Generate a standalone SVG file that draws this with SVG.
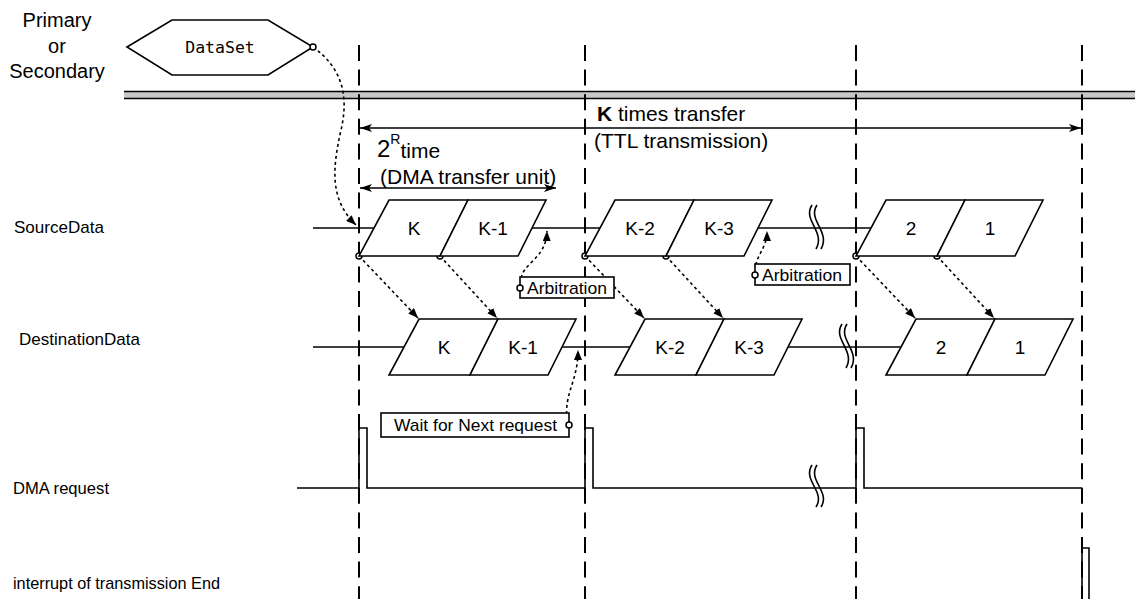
<svg xmlns="http://www.w3.org/2000/svg" width="1135" height="599" viewBox="0 0 1135 599">
<defs>
<style>
.t{font-family:"Liberation Sans",Arial,sans-serif;fill:#000}
.lbl{font-size:17px}
.cell{font-size:19px;text-anchor:middle}
.big{font-size:20px}
.big2{font-size:21px}
.sh{fill:#fff;stroke:#000;stroke-width:1.6}
.ln{fill:none;stroke:#000;stroke-width:1.6}
.dash{fill:none;stroke:#000;stroke-width:2;stroke-dasharray:16 8.6}
.dot{fill:none;stroke:#000;stroke-width:1.6;stroke-dasharray:3 3;marker-end:url(#dh)}
.dim{fill:none;stroke:#000;stroke-width:1.6;marker-start:url(#ah);marker-end:url(#ah)}
.pt{fill:#fff;stroke:#000;stroke-width:1.5}
</style>
<marker id="ah" markerWidth="13" markerHeight="9" refX="12" refY="4.5" orient="auto-start-reverse" markerUnits="userSpaceOnUse"><path d="M0,0.5 L12,4.5 L0,8.5 L3,4.5 z" fill="#000"/></marker>
<marker id="dh" markerWidth="10" markerHeight="8" refX="10" refY="4" orient="auto" markerUnits="userSpaceOnUse"><path d="M0,0 L10,4 L0,8 z" fill="#000"/></marker>
</defs>
<rect width="1135" height="599" fill="#fff"/>

<g id="labels">
<text class="t big" x="57" y="27" text-anchor="middle">Primary</text>
<text class="t big" x="57" y="53" text-anchor="middle">or</text>
<text class="t big" x="57" y="78" text-anchor="middle">Secondary</text>
<text class="t lbl" x="14" y="233" textLength="90" lengthAdjust="spacingAndGlyphs">SourceData</text>
<text class="t lbl" x="19" y="345" textLength="121" lengthAdjust="spacingAndGlyphs">DestinationData</text>
<text class="t lbl" x="13" y="494" textLength="96" lengthAdjust="spacingAndGlyphs">DMA request</text>
<text class="t lbl" x="13" y="589" textLength="207" lengthAdjust="spacingAndGlyphs">interrupt of transmission End</text>
</g>

<g id="bus">
<rect x="124" y="91.5" width="1011" height="7" fill="#c8c8c8"/>
<line x1="124" y1="91.5" x2="1135" y2="91.5" class="ln"/>
<line x1="124" y1="98.5" x2="1135" y2="98.5" class="ln"/>
</g>

<g id="dataset">
<polygon class="sh" points="127,47 172,20 268,20 313,47 268,75 172,75"/>
<text x="220" y="53" font-family="'DejaVu Sans Mono',monospace" font-size="16.5" text-anchor="middle">DataSet</text>
</g>

<g id="timelines">
<line class="dash" x1="359" y1="45" x2="359" y2="599"/>
<line class="dash" x1="585" y1="45" x2="585" y2="599"/>
<line class="dash" x1="856" y1="45" x2="856" y2="599"/>
<line class="dash" x1="1082" y1="45" x2="1082" y2="599"/>
</g>

<g id="ktimes">
<line class="dim" x1="360" y1="128" x2="1081" y2="128"/>
<text class="t big2" x="597" y="121"><tspan font-weight="bold">K</tspan> times transfer</text>
<text class="t big2" x="594" y="148">(TTL transmission)</text>
</g>

<g id="unit">
<line class="dim" x1="360" y1="188" x2="556" y2="188"/>
<text class="t" x="377" y="157" font-size="24">2<tspan font-size="14" dy="-13">R</tspan><tspan font-size="21" dy="14">time</tspan></text>
<text class="t big2" x="380" y="184">(DMA transfer unit)</text>
</g>

<g id="connectors">
<line class="ln" x1="313" y1="228" x2="374" y2="228"/>
<line class="ln" x1="532" y1="228" x2="600" y2="228"/>
<line class="ln" x1="758" y1="228" x2="871" y2="228"/>
<line class="ln" x1="313" y1="347" x2="404" y2="347"/>
<line class="ln" x1="562" y1="347" x2="630" y2="347"/>
<line class="ln" x1="788" y1="347" x2="901" y2="347"/>
<polyline class="ln" points="297,488 359,488 359,428 367,428 367,488 585,488 585,428 593,428 593,488 856,488 856,428 864,428 864,488 1082,488"/>
<polyline class="ln" points="1082,605 1082,548 1089,548 1089,605"/>
<path class="dot" d="M313,47 C345,70 348,100 341,130 C332,170 330,200 356,225"/>
<path class="dot" d="M359,256 L418,318"/>
<path class="dot" d="M440,256 L497,318"/>
<path class="dot" d="M585,256 L644,318"/>
<path class="dot" d="M666,256 L723,318"/>
<path class="dot" d="M856,256 L915,318"/>
<path class="dot" d="M937,256 L994,318"/>
<path class="dot" d="M521,284 C519,262 546,262 547,231"/>
<path class="dot" d="M756,271 C754,256 767,250 767,231"/>
<path class="dot" d="M567,420 C564,392 578,382 578,350"/>
<circle class="pt" cx="313" cy="47" r="3"/>
<circle class="pt" cx="359" cy="256" r="3"/>
<circle class="pt" cx="440" cy="256" r="3"/>
<circle class="pt" cx="585" cy="256" r="3"/>
<circle class="pt" cx="666" cy="256" r="3"/>
<circle class="pt" cx="856" cy="256" r="3"/>
<circle class="pt" cx="937" cy="256" r="3"/>
</g>

<g id="breaks" class="ln">
<path d="M812,205 C802,220 826,232 816,249"/>
<path d="M817,205 C807,220 831,232 821,249"/>
<path d="M842,324 C832,339 856,351 846,368"/>
<path d="M847,324 C837,339 861,351 851,368"/>
<path d="M812,465 C802,480 826,492 816,507"/>
<path d="M817,465 C807,480 831,492 821,507"/>
</g>

<g id="src-K"><polygon class="sh" points="389,200 468,200 440,256 359,256"/><text class="t cell" x="414" y="235">K</text></g>
<g id="src-K1"><polygon class="sh" points="468,200 546,200 518,256 440,256"/><text class="t cell" x="493" y="235">K-1</text></g>
<g id="src-K2"><polygon class="sh" points="615,200 694,200 666,256 585,256"/><text class="t cell" x="640" y="235">K-2</text></g>
<g id="src-K3"><polygon class="sh" points="694,200 772,200 744,256 666,256"/><text class="t cell" x="719" y="235">K-3</text></g>
<g id="src-2"><polygon class="sh" points="886,200 965,200 937,256 856,256"/><text class="t cell" x="911" y="235">2</text></g>
<g id="src-1"><polygon class="sh" points="965,200 1043,200 1015,256 937,256"/><text class="t cell" x="990" y="235">1</text></g>

<g id="dst-K"><polygon class="sh" points="419,319 498,319 470,375 389,375"/><text class="t cell" x="444" y="354">K</text></g>
<g id="dst-K1"><polygon class="sh" points="498,319 576,319 548,375 470,375"/><text class="t cell" x="523" y="354">K-1</text></g>
<g id="dst-K2"><polygon class="sh" points="645,319 724,319 696,375 615,375"/><text class="t cell" x="670" y="354">K-2</text></g>
<g id="dst-K3"><polygon class="sh" points="724,319 802,319 774,375 696,375"/><text class="t cell" x="749" y="354">K-3</text></g>
<g id="dst-2"><polygon class="sh" points="916,319 995,319 967,375 886,375"/><text class="t cell" x="941" y="354">2</text></g>
<g id="dst-1"><polygon class="sh" points="995,319 1073,319 1045,375 967,375"/><text class="t cell" x="1020" y="354">1</text></g>

<g id="arb1"><rect class="sh" x="520" y="277" width="94" height="21"/><text class="t lbl" x="527" y="294" textLength="80" lengthAdjust="spacingAndGlyphs">Arbitration</text><circle class="pt" cx="520" cy="288" r="3"/></g>
<g id="arb2"><rect class="sh" x="755" y="264" width="95" height="21"/><text class="t lbl" x="762" y="281" textLength="80" lengthAdjust="spacingAndGlyphs">Arbitration</text><circle class="pt" cx="755" cy="275" r="3"/></g>
<g id="wait"><rect class="sh" x="381" y="413" width="188" height="24"/><text class="t lbl" x="394" y="431" textLength="163" lengthAdjust="spacingAndGlyphs">Wait for Next request</text><circle class="pt" cx="569" cy="425" r="3"/></g>
</svg>
